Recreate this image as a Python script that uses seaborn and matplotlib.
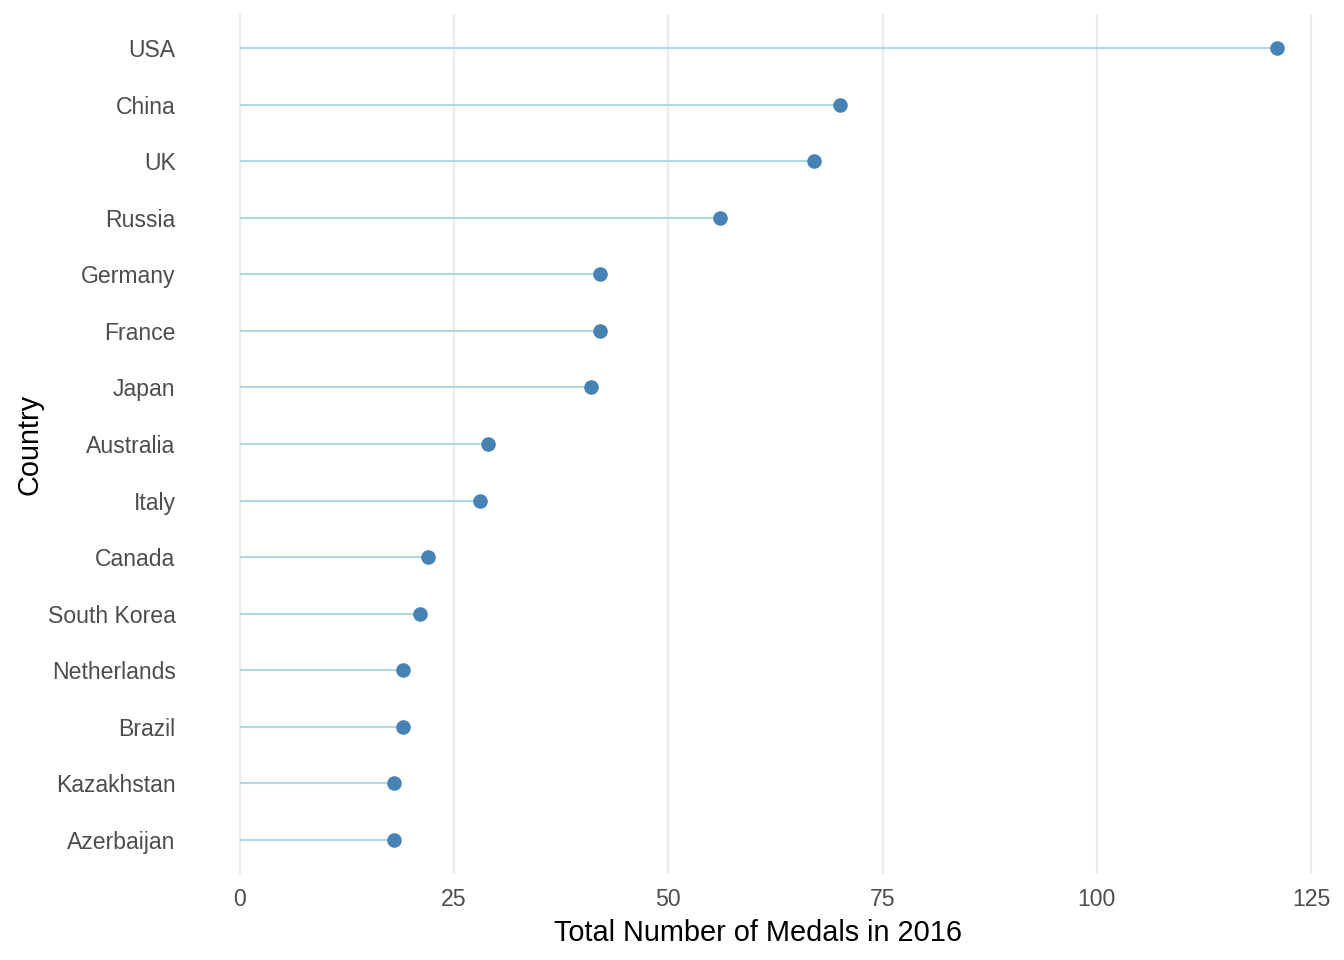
import matplotlib
matplotlib.use("Agg")
import matplotlib.pyplot as plt
import seaborn as sns
import pandas as pd

# データ
countries = ["USA", "China", "UK", "Russia", "Germany", "France", "Japan",
             "Australia", "Italy", "Canada", "South Korea", "Netherlands",
             "Brazil", "Kazakhstan", "Azerbaijan"]
medals = [121, 70, 67, 56, 42, 42, 41, 29, 28, 22, 21, 19, 19, 18, 18]
x_ticks = [0, 25, 50, 75, 100, 125]

df = pd.DataFrame({"Country": countries, "Medals": medals})

sns.set_style("white")
plt.rcParams['font.family'] = ['Liberation Sans', 'DejaVu Sans']

fig = plt.figure(figsize=(13.44, 9.6), dpi=100)
ax = fig.add_axes([0.1399, 0.0896, 0.8486, 0.8958])

# ロリポップの線
ax.hlines(y=df["Country"], xmin=0, xmax=df["Medals"], color="#ADD8E6",
          linewidth=1.5, zorder=2)
sns.scatterplot(data=df, x="Medals", y="Country", color="#4682B4", s=110,
                edgecolor="#4682B4", linewidth=0, ax=ax, zorder=3)

ax.set_xlim(-6.05, 127.05)
ax.set_ylim(len(countries) - 0.4, -0.6)
ax.set_xticks(x_ticks)
ax.set_xticklabels([str(t) for t in x_ticks])

# グリッド
ax.grid(True, axis="x", color="#EBEBEB", linewidth=1.6, zorder=0)
ax.grid(False, axis="y")
for s in ax.spines.values():
    s.set_visible(False)
ax.tick_params(axis="both", length=0, labelsize=16.6, labelcolor="#4D4D4D")
ax.tick_params(axis="x", pad=10)
ax.tick_params(axis="y", pad=9)

ax.set_xlabel("Total Number of Medals in 2016", fontsize=20.8, color="black", labelpad=6)
ax.set_ylabel("Country", fontsize=20.8, color="black", labelpad=3)

fig.savefig("out.png", dpi=100, facecolor="white")
